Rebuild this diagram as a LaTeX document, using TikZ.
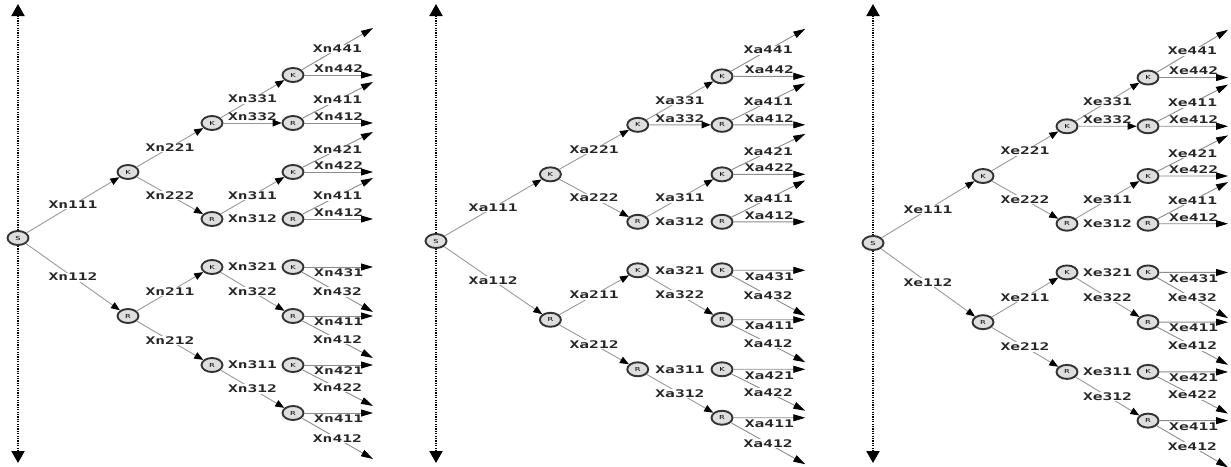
\documentclass[tikz,border=0pt]{standalone}
\usepackage{fontspec}
\usepackage{graphicx}
\usetikzlibrary{arrows.meta,shapes.geometric,calc}
\newfontfamily\monob{DejaVu Sans Mono}
\newfontfamily\dvs{DejaVu Sans}
\newcommand{\lbtext}[1]{\scalebox{1.55}[1]{#1}}
\newcommand{\ndl}[1]{\scalebox{1.5}[1]{\dvs\fontsize{5.5}{6}\selectfont #1}}
\tikzset{
  st/.style={ellipse, draw=black!80, line width=1.9pt, fill=black!13,
    minimum width=21pt, minimum height=14pt, inner sep=0pt},
  ed/.style={draw=black!40, line width=0.9pt, -{Triangle[length=9pt,width=7pt,color=black]}},
  lf/.style={draw=black!45, line width=0.9pt, -{Triangle[length=12pt,width=7pt,color=black]}},
  lbs/.style={fill=white, inner sep=0.6pt, text=black!85,
    font={\monob\bfseries\fontsize{10.5}{11}\selectfont}},
  lb/.style={lbs, midway},
  lbab/.style={lb, fill=none, yshift=6.5pt},
  lbbe/.style={lb, fill=none, yshift=-6pt},
  axisline/.style={draw=black, line width=2pt, dash pattern=on 1.2pt off 1.2pt,
    {Triangle[length=12pt,width=13pt]}-{Triangle[length=12pt,width=13pt]}}
}
\newcommand{\drawtree}[1]{%
  \node[st] (#1S) at (0,0) {\ndl{S}};
  \node[st] (#1K1) at (110,-66) {\ndl{K}};
  \node[st] (#1R1) at (110,78) {\ndl{R}};
  \node[st] (#1K2) at (194,-115) {\ndl{K}};
  \node[st] (#1R2) at (194,-19) {\ndl{R}};
  \node[st] (#1K2b) at (194,29) {\ndl{K}};
  \node[st] (#1R2b) at (194,127) {\ndl{R}};
  \node[st] (#1A) at (275,-163) {\ndl{K}};
  \node[st] (#1B) at (275,-115) {\ndl{R}};
  \node[st] (#1C) at (275,-66) {\ndl{K}};
  \node[st] (#1D) at (275,-19) {\ndl{R}};
  \node[st] (#1E) at (275,29) {\ndl{K}};
  \node[st] (#1F) at (275,78) {\ndl{R}};
  \node[st] (#1G) at (275,127) {\ndl{K}};
  \node[st] (#1H) at (275,175) {\ndl{R}};
  \coordinate (#1Ad) at (355,-210);
  \coordinate (#1Ah) at (355,-163);
  \coordinate (#1Bd) at (355,-156);
  \coordinate (#1Bh) at (355,-115);
  \coordinate (#1Cd) at (355,-106);
  \coordinate (#1Ch) at (355,-66);
  \coordinate (#1Dd) at (355,-60);
  \coordinate (#1Dh) at (355,-19);
  \coordinate (#1Eh) at (355,29);
  \coordinate (#1Ed) at (355,74);
  \coordinate (#1Fh) at (355,78);
  \coordinate (#1Fd) at (355,120);
  \coordinate (#1Gh) at (355,127);
  \coordinate (#1Gd) at (355,168);
  \coordinate (#1Hh) at (355,175);
  \coordinate (#1Hd) at (355,221);
  \draw[ed] (#1S) -- node[lb]{\lbtext{X#1111}} (#1K1);
  \draw[ed] (#1S) -- node[lb]{\lbtext{X#1112}} (#1R1);
  \draw[ed] (#1K1) -- node[lb]{\lbtext{X#1221}} (#1K2);
  \draw[ed] (#1K1) -- node[lb]{\lbtext{X#1222}} (#1R2);
  \draw[ed] (#1R1) -- node[lb]{\lbtext{X#1211}} (#1K2b);
  \draw[ed] (#1R1) -- node[lb]{\lbtext{X#1212}} (#1R2b);
  \draw[ed] (#1K2) -- node[lb]{\lbtext{X#1331}} (#1A);
  \draw[ed] (#1K2) -- node[lbab]{\lbtext{X#1332}} (#1B);
  \draw[ed] (#1R2) -- node[lb]{\lbtext{X#1311}} (#1C);
  \node[lbs] (#1t1) at ($(#1R2)!0.5!(#1D)$) {\lbtext{X#1312}};
  \node[lbs] (#1t2) at ($(#1K2b)!0.5!(#1E)$) {\lbtext{X#1321}};
  \draw[ed] (#1K2b) -- node[lb]{\lbtext{X#1322}} (#1F);
  \node[lbs] (#1t3) at ($(#1R2b)!0.5!(#1G)$) {\lbtext{X#1311}};
  \draw[ed] (#1R2b) -- node[lb]{\lbtext{X#1312}} (#1H);
  \draw[lf] (#1A) -- node[lb]{\lbtext{X#1441}} (#1Ad);
  \draw[lf] (#1A) -- node[lbab]{\lbtext{X#1442}} (#1Ah);
  \draw[lf] (#1B) -- node[lb]{\lbtext{X#1411}} (#1Bd);
  \draw[lf] (#1B) -- node[lbab]{\lbtext{X#1412}} (#1Bh);
  \draw[lf] (#1C) -- node[lb]{\lbtext{X#1421}} (#1Cd);
  \draw[lf] (#1C) -- node[lbab]{\lbtext{X#1422}} (#1Ch);
  \draw[lf] (#1D) -- node[lb]{\lbtext{X#1411}} (#1Dd);
  \draw[lf] (#1D) -- node[lbab]{\lbtext{X#1412}} (#1Dh);
  \draw[lf] (#1E) -- node[lbbe]{\lbtext{X#1431}} (#1Eh);
  \draw[lf] (#1E) -- node[lb]{\lbtext{X#1432}} (#1Ed);
  \draw[lf] (#1F) -- node[lbbe]{\lbtext{X#1411}} (#1Fh);
  \draw[lf] (#1F) -- node[lb]{\lbtext{X#1412}} (#1Fd);
  \draw[lf] (#1G) -- node[lbbe]{\lbtext{X#1421}} (#1Gh);
  \draw[lf] (#1G) -- node[lb]{\lbtext{X#1422}} (#1Gd);
  \draw[lf] (#1H) -- node[lbbe]{\lbtext{X#1411}} (#1Hh);
  \draw[lf] (#1H) -- node[lb]{\lbtext{X#1412}} (#1Hd);
}
\begin{document}
\begin{tikzpicture}[x=1pt,y=-1pt]
  \useasboundingbox (0,0) rectangle (1231,466);
  \coordinate (nTop) at (18,4);
  \coordinate (nBot) at (18,463);
  \coordinate (aTop) at (436,4);
  \coordinate (aBot) at (436,463);
  \coordinate (eTop) at (873,4);
  \coordinate (eBot) at (873,463);
  \draw[axisline] (nTop) -- (nBot);
  \draw[axisline] (aTop) -- (aBot);
  \draw[axisline] (eTop) -- (eBot);
  \begin{scope}[shift={(18,238)}]
    \drawtree{n}
  \end{scope}
  \begin{scope}[shift={(436,241)}, xscale=1.04, yscale=1.01]
    \drawtree{a}
  \end{scope}
  \begin{scope}[shift={(873,243)}, yscale=1.015]
    \drawtree{e}
  \end{scope}
\end{tikzpicture}
\end{document}
